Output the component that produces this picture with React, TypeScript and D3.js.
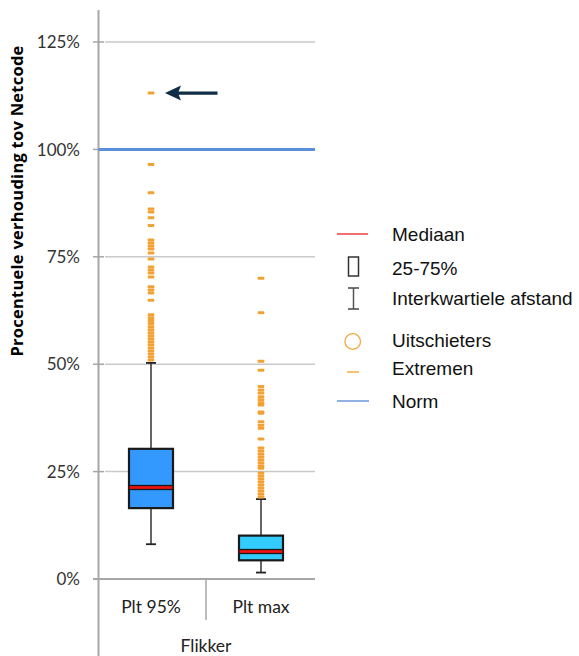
import React from "react";
import * as d3 from "d3";

// Box plot statistics per category (percent of the Netcode limit)
const categories = ["Plt 95%", "Plt max"];
const q1 = [16.5, 4.35];
const median = [21.3, 6.4];
const q3 = [30.3, 10.1];
const whiskerLow = [8.1, 1.5];
const whiskerHigh = [50.3, 18.6];

// Extreme values above the upper whisker
const extremesP95 = [
  113.1, 96.5, 89.9, 86.1, 85.4, 84.1, 82.3, 78.9, 78.2, 77.5, 76.8, 75.9, 74.5,
  72.6, 71.9, 71.2, 70.3, 68.0, 67.3, 66.6, 64.9, 61.5, 60.8, 60.2, 59.5, 58.7,
  58.0, 57.3, 56.6, 55.9, 55.2, 54.5, 53.8, 53.1, 52.4, 51.7, 51.0,
];
const extremesMax = [
  70.0, 62.0, 50.7, 48.6, 44.8, 44.0, 43.3, 42.4, 41.7, 41.0, 40.5, 38.9, 38.6,
  36.6, 35.8, 35.1, 32.6, 30.5, 29.8, 29.1, 28.4, 27.7, 27.0, 26.3, 25.8, 24.7,
  24.0, 23.3, 22.6, 21.9, 21.2, 20.5, 19.8, 19.1,
];
const extremes = [extremesP95, extremesMax];

const normValue = 100;
const yTicks = [0, 25, 50, 75, 100, 125];
const yTitle = "Procentuele verhouding tov Netcode";
const groupLabel = "Flikker";
const legendLabels = ["Mediaan", "25-75%", "Interkwartiele afstand", "Uitschieters", "Extremen", "Norm"];

const boxFills = ["#3399ff", "#33ccff"];
const extremeColor = "#f2a235";
const normColor = "#5b8fdb";

export default function App() {
  const width = 579;
  const height = 656;

  const y = d3.scaleLinear().domain([0, 125]).range([579, 42]);
  const x = d3.scaleBand<string>().domain(categories).range([96, 316]);
  const boxW = 44;
  const capW = 10;

  const axisX = 98.5;
  const plotRight = 315;
  const fmt = (v: number) => `${v}%`;

  const arrowY = y(d3.max(extremesP95) as number);
  const legendX = 337;
  const legendTextX = 392;
  const legendRows = [234, 268, 298, 340, 368, 401];

  return (
    <svg
      width={width}
      height={height}
      style={{ position: "absolute", left: 0, top: 0, background: "#fff" }}
    >
      {/* gridlines */}
      {yTicks.map((t) =>
        t === 0 ? null : (
          <line key={`g${t}`} x1={105} x2={plotRight} y1={y(t)} y2={y(t)} stroke="#c9c9c9" strokeWidth={1.5} />
        )
      )}
      {/* ticks and labels */}
      {yTicks.map((t) => (
        <g key={`t${t}`}>
          <line x1={93} x2={104} y1={y(t)} y2={y(t)} stroke="#a6a6a6" strokeWidth={1.5} />
          <text
            x={80}
            y={y(t)}
            dy="0.36em"
            textAnchor="end"
            fontFamily="Lato"
            fontSize={17}
            fill="#333"
          >
            {fmt(t)}
          </text>
        </g>
      ))}
      {/* y axis line */}
      <line x1={axisX} x2={axisX} y1={10} y2={656} stroke="#a6a6a6" strokeWidth={2} />
      {/* x axis baseline */}
      <line x1={93} x2={plotRight} y1={y(0)} y2={y(0)} stroke="#a6a6a6" strokeWidth={2} />
      {/* category divider */}
      <line
        x1={(x(categories[1]) as number)}
        x2={(x(categories[1]) as number)}
        y1={y(0)}
        y2={620}
        stroke="#a6a6a6"
        strokeWidth={1.5}
      />
      {/* norm line */}
      <line x1={axisX} x2={plotRight} y1={y(normValue)} y2={y(normValue)} stroke={normColor} strokeWidth={3} />

      {/* box plots */}
      {categories.map((c, i) => {
        const cx = (x(c) as number) + x.bandwidth() / 2;
        return (
          <g key={c}>
            <line x1={cx} x2={cx} y1={y(q3[i])} y2={y(whiskerHigh[i])} stroke="#333" strokeWidth={1.5} />
            <line x1={cx} x2={cx} y1={y(q1[i])} y2={y(whiskerLow[i])} stroke="#333" strokeWidth={1.5} />
            <line x1={cx - capW / 2} x2={cx + capW / 2} y1={y(whiskerHigh[i])} y2={y(whiskerHigh[i])} stroke="#222" strokeWidth={1.8} />
            <line x1={cx - capW / 2} x2={cx + capW / 2} y1={y(whiskerLow[i])} y2={y(whiskerLow[i])} stroke="#222" strokeWidth={1.8} />
            <rect
              x={cx - boxW / 2}
              y={y(q3[i])}
              width={boxW}
              height={y(q1[i]) - y(q3[i])}
              fill={boxFills[i]}
              stroke="#1a1a1a"
              strokeWidth={2.2}
            />
            <rect
              x={cx - boxW / 2}
              y={y(median[i]) - 2}
              width={boxW}
              height={4}
              fill="#ee1111"
              stroke="#1a1a1a"
              strokeWidth={1.3}
            />
            {extremes[i].map((v, k) => (
              <rect key={k} x={cx - 3.3} y={y(v) - 1.5} width={6.6} height={3} rx={0.8} fill={extremeColor} />
            ))}
          </g>
        );
      })}

      {/* arrow pointing at the highest extreme */}
      <line x1={178} x2={217.5} y1={arrowY} y2={arrowY} stroke="#0f2e45" strokeWidth={3.2} />
      <path
        d={`M165,${arrowY} L181,${arrowY - 7.5} L178,${arrowY} L181,${arrowY + 7.5} Z`}
        fill="#0f2e45"
      />

      {/* category labels */}
      {categories.map((c) => (
        <text
          key={`l${c}`}
          x={(x(c) as number) + x.bandwidth() / 2}
          y={613}
          textAnchor="middle"
          fontFamily="Lato"
          fontSize={17.5}
          fill="#222"
        >
          {c}
        </text>
      ))}
      <text x={206} y={652} textAnchor="middle" fontFamily="Lato" fontSize={17.5} fill="#222">
        {groupLabel}
      </text>

      {/* y axis title */}
      <text
        transform={`translate(23,201) rotate(-90)`}
        textAnchor="middle"
        fontFamily="Open Sans"
        fontWeight="bold"
        fontSize={16.5}
        letterSpacing={0.25}
        fill="#000"
      >
        {yTitle}
      </text>

      {/* legend */}
      <g fontFamily="Liberation Sans, Arial, sans-serif" fontSize={19} fill="#111">
        <line x1={legendX} x2={legendX + 31} y1={legendRows[0]} y2={legendRows[0]} stroke="#f04040" strokeWidth={1.5} />
        <rect x={348.5} y={257} width={10} height={19} fill="none" stroke="#333" strokeWidth={1.5} />
        <line x1={353.5} x2={353.5} y1={288} y2={309} stroke="#555" strokeWidth={1.5} />
        <line x1={348} x2={359} y1={288} y2={288} stroke="#444" strokeWidth={1.5} />
        <line x1={348} x2={359} y1={309} y2={309} stroke="#444" strokeWidth={1.5} />
        <circle cx={352.7} cy={341.5} r={7.8} fill="none" stroke="#f4a940" strokeWidth={1.3} />
        <line x1={347} x2={359} y1={372} y2={372} stroke="#f6c07a" strokeWidth={2} />
        <line x1={legendX} x2={legendX + 32} y1={legendRows[5]} y2={legendRows[5]} stroke="#8fb1e3" strokeWidth={2} />
        {legendLabels.map((l, i) => (
          <text key={l} x={legendTextX} y={legendRows[i]} dy="0.36em">
            {l}
          </text>
        ))}
      </g>
    </svg>
  );
}
